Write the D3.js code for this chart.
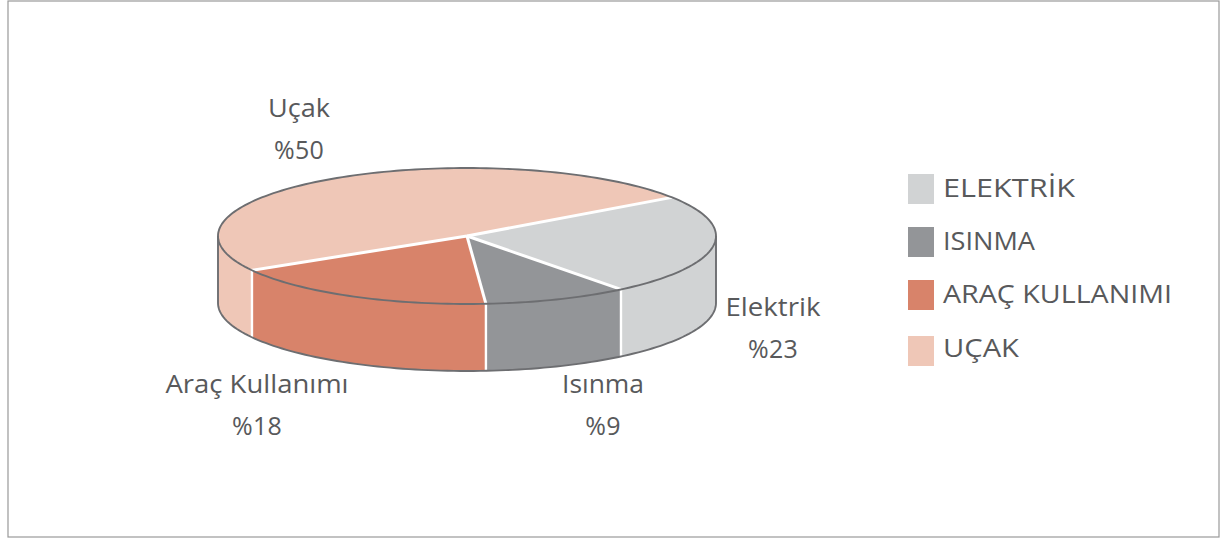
<!DOCTYPE html>
<html><head><meta charset="utf-8">
<script src="https://cdn.jsdelivr.net/npm/d3@7/dist/d3.min.js"></script>
<style>html,body{margin:0;padding:0;background:#fff}svg{display:block}text{font-family:"Open Sans",sans-serif;fill:#58595b;letter-spacing:.3px}</style>
</head><body><svg id="c" width="1222" height="540"></svg>
<script>
const categories = ["Elektrik","Isınma","Araç Kullanımı","Uçak"];
const legendLabels = ["ELEKTRİK","ISINMA","ARAÇ KULLANIMI","UÇAK"];
const valueLabels = ["%23","%9","%18","%50"];
// slice sizes as drawn in the picture
const sliceShares = [24,9.4,17.8,48.8];
const colors = ["#d1d3d4","#939598","#d8836a","#efc7b7"];
const labelX = [773,603,257,299];
const labelY = [316,393,393,117];
const labelW = [95,82,183,62];
const legendY = [174,227,280,336];
const legendTextY = [197,250,303,357];
const legendW = [132,92,229,76];

const svg = d3.select("#c");
const cx=467, cy=236, rx=249, ry=68, depth=67;
const TAU=Math.PI*2;
svg.append("rect").attr("x",8).attr("y",1).attr("width",1211).attr("height",536).attr("fill","#fff").attr("stroke","#999").attr("stroke-width",1.2);

const start=55.4*Math.PI/180;
const pie=d3.pie().sort(null).startAngle(start).endAngle(start+TAU);
const arcs=pie(sliceShares);
const px=a=>cx+rx*Math.sin(a), py=a=>cy-ry*Math.cos(a);
const g=svg.append("g");
// walls
const area=d3.area().x(px).y0(py).y1(a=>py(a)+depth);
arcs.forEach((d,i)=>{
  const segs=[[d.startAngle,d.endAngle],[d.startAngle-TAU,d.endAngle-TAU]];
  segs.forEach(([a,b])=>{
    const lo=Math.max(a,Math.PI/2), hi=Math.min(b,Math.PI*1.5);
    if(hi<=lo) return;
    g.append("path").attr("d",area(d3.range(0,61).map(k=>lo+(hi-lo)*k/60))).attr("fill",colors[i]);
  });
});
arcs.forEach(d=>{
  const a=d.endAngle%TAU;
  if(a>Math.PI/2&&a<Math.PI*1.5){
    g.append("line").attr("x1",px(a)).attr("x2",px(a)).attr("y1",py(a)).attr("y2",py(a)+depth).attr("stroke","#fff").attr("stroke-width",2.4);
  }
});
// top face
const arc=d3.arc().innerRadius(0).outerRadius(1);
const face=g.append("g").attr("transform",`translate(${cx},${cy}) scale(${rx},${ry})`);
arcs.forEach((d,i)=>face.append("path").attr("d",arc(d)).attr("fill",colors[i]));
arcs.forEach(d=>{
  g.append("line").attr("x1",cx).attr("y1",cy).attr("x2",px(d.endAngle)).attr("y2",py(d.endAngle)).attr("stroke","#fff").attr("stroke-width",3);
});
// outline
const line=d3.line().x(px).y(py);
g.append("path").attr("d",line(d3.range(0,241).map(k=>k/240*TAU))+"Z").attr("fill","none").attr("stroke","#6d6e71").attr("stroke-width",1.9);
const lower=d3.range(0,121).map(k=>Math.PI/2+k/120*Math.PI);
g.append("path").attr("d",d3.line().x(px).y(a=>py(a)+depth)(lower)).attr("fill","none").attr("stroke","#6d6e71").attr("stroke-width",1.9);
[Math.PI/2,Math.PI*1.5].forEach(a=>g.append("line").attr("x1",px(a)).attr("x2",px(a)).attr("y1",py(a)).attr("y2",py(a)+depth).attr("stroke","#6d6e71").attr("stroke-width",1.9));

// labels
categories.forEach((c,i)=>{
  svg.append("text").attr("x",labelX[i]).attr("y",labelY[i]).attr("text-anchor","middle").attr("font-size",25).attr("textLength",labelW[i]).attr("lengthAdjust","spacingAndGlyphs").style("letter-spacing","0").text(c);
  svg.append("text").attr("x",labelX[i]).attr("y",labelY[i]+42).attr("text-anchor","middle").attr("font-size",25).text(valueLabels[i]);
});
legendLabels.forEach((c,i)=>{
  svg.append("rect").attr("x",908).attr("y",legendY[i]).attr("width",26).attr("height",30).attr("fill",colors[i]);
  svg.append("text").attr("x",943).attr("y",legendTextY[i]).attr("font-size",25).attr("textLength",legendW[i]).attr("lengthAdjust","spacingAndGlyphs").style("letter-spacing","0").text(c);
});
</script></body></html>
